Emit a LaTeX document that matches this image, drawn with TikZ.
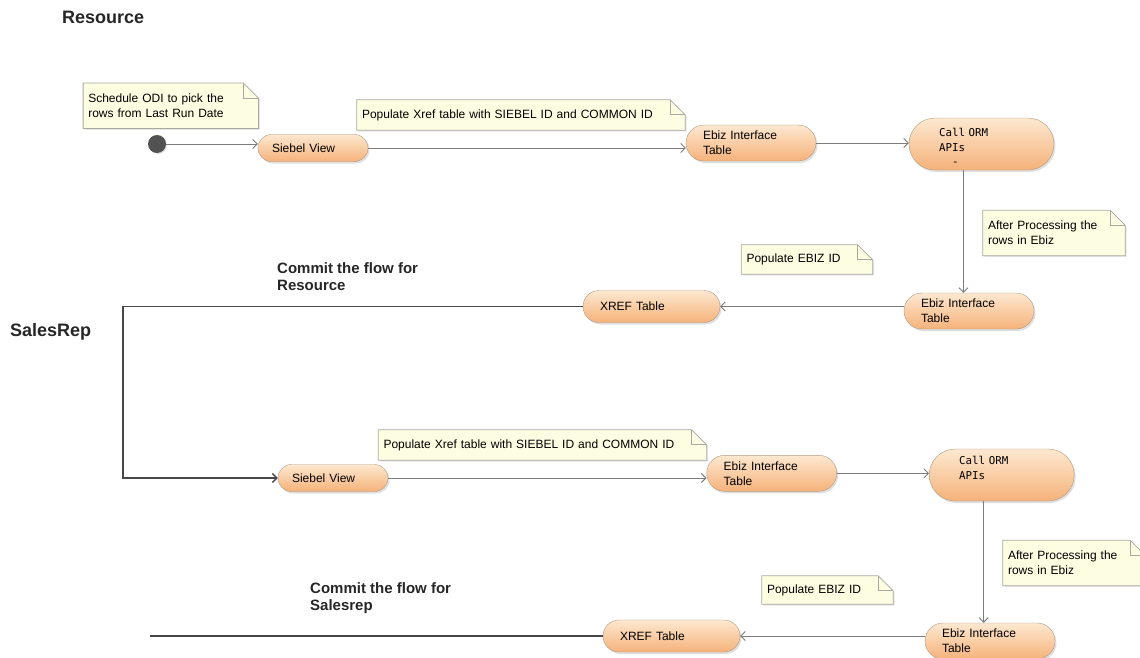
\documentclass[tikz,border=0pt]{standalone}
\usepackage{fontspec}
\setmainfont{Liberation Sans}
\newfontfamily\apifont{DejaVu Sans Mono}
\usetikzlibrary{arrows.meta,shadows,backgrounds}

\definecolor{actline}{HTML}{B29A7E}
\definecolor{acttop}{HTML}{FDE8D0}
\definecolor{actbot}{HTML}{F5B27A}
\definecolor{notefill}{HTML}{FDFDE2}
\definecolor{noteline}{HTML}{A9A9A2}
\definecolor{flowline}{HTML}{7C7C7C}

\begin{document}
\begin{tikzpicture}[x=1pt,y=-1pt]
\tikzstyle{every node}+=[inner sep=0pt]
\tikzstyle{act}=[rectangle, draw=actline, top color=acttop, bottom color=actbot, align=left, font=\fontsize{12}{15}\selectfont, drop shadow={shadow xshift=1.5pt, shadow yshift=-2pt, opacity=.25}]
\tikzstyle{view}=[act, text width=82pt, inner xsep=14pt, minimum height=27pt, rounded corners=13.5pt]
\tikzstyle{tbl}=[act, text width=96pt, inner xsep=17pt, minimum height=36pt, rounded corners=18pt]
\tikzstyle{xref}=[act, text width=103pt, inner xsep=17pt, minimum height=32pt, rounded corners=16pt]
\tikzstyle{api}=[act, text width=85pt, inner xsep=30pt, minimum height=52pt, rounded corners=26pt, font=\apifont\fontsize{10.8}{14.5}\selectfont]
\tikzstyle{note}=[align=left, inner xsep=5pt, font=\fontsize{12}{15}\selectfont]
\tikzstyle{notebox}=[fill=notefill, draw=noteline, line width=0.8pt, drop shadow={shadow xshift=1.5pt, shadow yshift=-1.5pt, opacity=.2}]
\tikzstyle{arr}=[draw=flowline, line width=0.9pt, -{Straight Barb[length=4.5pt,width=9pt]}]
\tikzstyle{commit}=[draw=black!72, line width=1.3pt]
\tikzstyle{heading}=[font=\bfseries\fontsize{18}{20}\selectfont, text=black!85]
\tikzstyle{remark}=[align=left, font=\bfseries\fontsize{15}{17}\selectfont, text=black!85]

\useasboundingbox (0,0) rectangle (1140,658);

\node[heading, anchor=west] (resource) at (62,17) {Resource};
\node[heading, anchor=west] (salesrep) at (10,332) {SalesRep};

\node[note, text width=165pt, minimum height=45pt] (n1) at (170.8,105.8) {Schedule ODI to pick the\\rows from Last Run Date};
\node[note, text width=318pt, minimum height=30pt] (n2) at (521,115) {Populate Xref table with SIEBEL ID and COMMON ID};
\node[note, text width=132pt, minimum height=45pt] (n3) at (1054,233) {After Processing the\\rows in Ebiz};
\node[note, text width=121pt, minimum height=29pt] (n4) at (807,259.5) {Populate EBIZ ID};
\node[note, text width=318pt, minimum height=30pt] (n5) at (542.5,445) {Populate Xref table with SIEBEL ID and COMMON ID};
\node[note, text width=132pt, minimum height=45pt] (n6) at (1074,563) {After Processing the\\rows in Ebiz};
\node[note, text width=121pt, minimum height=28pt] (n7) at (827.5,590) {Populate EBIZ ID};

\node[circle, fill=black!68, minimum size=18pt, drop shadow={shadow xshift=1pt, shadow yshift=-1pt, opacity=.25}] (start) at (157,144) {};
\node[view] (sv1) at (313,148) {Siebel View};
\node[tbl] (eb1) at (751,143) {Ebiz Interface\\Table};
\node[api] (api1) at (981.5,144) {\mbox{}\\Call ORM\\APIs\\\phantom{AP}-};
\node[tbl] (eb2) at (969,311) {Ebiz Interface\\Table};
\node[xref] (xr1) at (651.5,306.5) {XREF Table};

\node[view] (sv2) at (333,478) {Siebel View};
\node[tbl] (eb3) at (771.7,473.3) {Ebiz Interface\\Table};
\node[api] (api2) at (1001.7,475) {Call ORM\\APIs\\\mbox{}};
\node[tbl] (eb4) at (990,641) {Ebiz Interface\\Table};
\node[xref] (xr2) at (671.5,636) {XREF Table};

\node[remark, anchor=north west] (c1) at (277,262) {Commit the flow for\\Resource};
\node[remark, anchor=north west] (c2) at (310,582) {Commit the flow for\\Salesrep};

\coordinate (loop) at (123,478);
\coordinate (stop) at (150,636);

\draw[arr] (start) -- (start -| sv1.west);
\draw[arr] (sv1.east) -- (sv1.east -| eb1.west);
\draw[arr] (eb1.east) -- (eb1.east -| api1.west);
\draw[arr] ([xshift=-18pt]api1.south) -- ([xshift=-18pt]api1.south |- eb2.north);
\draw[arr] (xr1.east -| eb2.west) -- (xr1.east);
\draw[commit, -{Straight Barb[length=4.5pt,width=9pt]}] (xr1.west) -| (loop) -- (sv2.west);

\draw[arr] (sv2.east) -- (sv2.east -| eb3.west);
\draw[arr] (eb3.east) -- (eb3.east -| api2.west);
\draw[arr] ([xshift=-18pt]api2.south) -- ([xshift=-18pt]api2.south |- eb4.north);
\draw[arr] (xr2.east -| eb4.west) -- (xr2.east);
\draw[commit] (xr2.west) -- (stop);

\begin{pgfonlayer}{background}
\foreach \n in {n1,n2,n3,n4,n5,n6,n7}{
  \filldraw[notebox] (\n.south west) -- (\n.north west) -- ([xshift=-15pt]\n.north east) -- ([yshift=-15pt]\n.north east) -- (\n.south east) -- cycle;
  \draw[noteline, line width=0.8pt] ([xshift=-15pt]\n.north east) -- ([xshift=-15pt,yshift=-15pt]\n.north east) -- ([yshift=-15pt]\n.north east);
}
\end{pgfonlayer}
\end{tikzpicture}
\end{document}
